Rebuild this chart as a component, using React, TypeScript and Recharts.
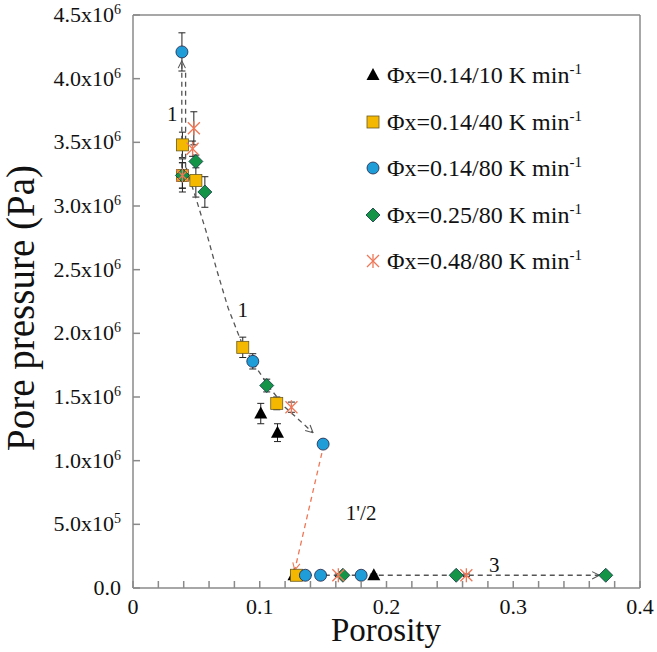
import React from "react";
import { ScatterChart, Scatter, XAxis, YAxis, ErrorBar, ReferenceLine, ReferenceDot } from "recharts";

// series: porosity, pore pressure (Pa), error (Pa)
const triX = [0.1008, 0.114, 0.127, 0.19];
const triY = [1.37e6, 1.22e6, 0.1e6, 0.1e6];
const triErr = [0.08e6, 0.07e6, 0.01e6, 0.01e6];

const sqX = [0.039, 0.039, 0.0496, 0.0866, 0.1134, 0.129];
const sqY = [3.48e6, 3.24e6, 3.2e6, 1.89e6, 1.45e6, 0.1e6];
const sqErr = [0.1e6, 0.13e6, 0.13e6, 0.08e6, 0.05e6, 0.01e6];

const cirX = [0.0386, 0.0945, 0.15, 0.136, 0.148, 0.18];
const cirY = [4.21e6, 1.78e6, 1.13e6, 0.1e6, 0.1e6, 0.1e6];
const cirErr = [0.15e6, 0.06e6, 0.02e6, 0.01e6, 0.01e6, 0.01e6];

const diaX = [0.0496, 0.039, 0.0567, 0.1055, 0.1656, 0.255, 0.373];
const diaY = [3.35e6, 3.24e6, 3.11e6, 1.59e6, 0.1e6, 0.1e6, 0.1e6];
const diaErr = [0.05e6, 0.1e6, 0.12e6, 0.05e6, 0.01e6, 0.01e6, 0.01e6];

const astX = [0.048, 0.047, 0.039, 0.125, 0.162, 0.263];
const astY = [3.61e6, 3.45e6, 3.24e6, 1.42e6, 0.1e6, 0.1e6];
const astErr = [0.13e6, 0.06e6, 0.1e6, 0.04e6, 0.01e6, 0.01e6];

const legendLabels = ["Φx=0.14/10 K min", "Φx=0.14/40 K min", "Φx=0.14/80 K min", "Φx=0.25/80 K min", "Φx=0.48/80 K min"];

// guide paths (annotation arrows)
const upX = [0.0385, 0.0385];
const upY = [3.3e6, 4.14e6];
const up2X = [0.0415, 0.0415];
const up2Y = [3.3e6, 4.05e6];
const path1X = [0.042, 0.05, 0.058, 0.066, 0.075, 0.086, 0.096, 0.108, 0.12, 0.131, 0.142];
const path1Y = [3.3e6, 3.05e6, 2.79e6, 2.5e6, 2.2e6, 1.92e6, 1.75e6, 1.57e6, 1.42e6, 1.32e6, 1.22e6];
const path2X = [0.149, 0.1276];
const path2Y = [1.06e6, 0.14e6];
const path3X = [0.13, 0.368];
const path3Y = [0.1e6, 0.1e6];

const noteText = ["1", "1", "1'/2", "3"];
const noteX = [0.031, 0.0866, 0.18, 0.285];
const noteY = [3.72e6, 2.18e6, 0.59e6, 0.18e6];

const xTicks = [0, 0.02, 0.04, 0.06, 0.08, 0.1, 0.12, 0.14, 0.16, 0.18, 0.2, 0.22, 0.24, 0.26, 0.28, 0.3, 0.32, 0.34, 0.36, 0.38, 0.4];
const yTicks = [0, 0.5e6, 1e6, 1.5e6, 2e6, 2.5e6, 3e6, 3.5e6, 4e6, 4.5e6];

const FONT = "Liberation Serif";
const AXIS = "#8a8a8a";
const YELLOW = "#f5b800";
const BLUE = "#1e9dd8";
const GREEN = "#139447";
const RED = "#ee7757";
const GUIDE = "#555";

const zip = (xs: number[], ys: number[], es?: number[]) =>
  xs.map((x, i) => ({ x, y: ys[i], err: es ? es[i] : 0 }));

const Triangle = ({ cx, cy }: any) => (
  <path d={`M${cx},${cy - 7} L${cx + 6.5},${cy + 5} L${cx - 6.5},${cy + 5} Z`} fill="#000" />
);
const Square = ({ cx, cy }: any) => (
  <rect x={cx - 6} y={cy - 6} width={12} height={12} fill={YELLOW} stroke="#6b5a1e" strokeWidth={0.8} />
);
const Circle = ({ cx, cy }: any) => <circle cx={cx} cy={cy} r={6} fill={BLUE} stroke="#224" strokeWidth={0.8} />;
const Diamond = ({ cx, cy }: any) => (
  <path d={`M${cx},${cy - 7} L${cx + 7},${cy} L${cx},${cy + 7} L${cx - 7},${cy} Z`} fill={GREEN} stroke="#134" strokeWidth={0.8} />
);
const Asterisk = ({ cx, cy }: any) => (
  <g stroke={RED} strokeWidth={1.3}>
    <line x1={cx - 6} y1={cy - 6} x2={cx + 6} y2={cy + 6} />
    <line x1={cx - 6} y1={cy + 6} x2={cx + 6} y2={cy - 6} />
    <line x1={cx} y1={cy - 7} x2={cx} y2={cy + 7} />
  </g>
);
const NoShape = () => <g />;

const markers = [Triangle, Square, Circle, Diamond, Asterisk];

const XTick = ({ x, y, payload }: any) => {
  const v = payload.value;
  const major = Math.abs(v * 10 - Math.round(v * 10)) < 1e-6;
  return (
    <g>
      <line x1={x} y1={y} x2={x} y2={y - 7} stroke={AXIS} strokeWidth={1.5} />
      {major && (
        <text x={x} y={y + 26} textAnchor="middle" fontFamily={FONT} fontSize={22} fill="#111">
          {v === 0 ? "0" : v.toFixed(1)}
        </text>
      )}
    </g>
  );
};

const YTick = ({ x, y, payload }: any) => {
  const v = payload.value;
  let body: React.ReactNode = "0.0";
  if (v !== 0) {
    const e = Math.floor(Math.log10(v) + 1e-9);
    const m = v / Math.pow(10, e);
    body = (
      <>
        {m.toFixed(1) + "x10"}
        <tspan fontSize={14} dy={-8}>{e}</tspan>
      </>
    );
  }
  return (
    <g>
      <line x1={x} y1={y} x2={x + 7} y2={y} stroke={AXIS} strokeWidth={1.5} />
      <text x={x - 12} y={y + 7} textAnchor="end" fontFamily={FONT} fontSize={22} fill="#111">
        {body}
      </text>
    </g>
  );
};

const LegendBox = () => (
  <div style={{ position: "absolute", left: 364, top: 52, fontFamily: FONT, fontSize: 24, color: "#111" }}>
    {legendLabels.map((label, i) => {
      const M = markers[i];
      return (
        <div key={label} style={{ display: "flex", alignItems: "center", height: 46.5 }}>
          <svg width={18} height={18} style={{ marginRight: 5 }}>
            <M cx={9} cy={9} />
          </svg>
          <span style={{ whiteSpace: "nowrap" }}>
            {label}
            <sup style={{ fontSize: 15 }}>-1</sup>
          </span>
        </div>
      );
    })}
  </div>
);

const Note = ({ cx, cy, text }: any) => (
  <text x={cx} y={cy} textAnchor="middle" dominantBaseline="central" fontFamily={FONT} fontSize={21} fill="#111">
    {text}
  </text>
);

const guideLine = (color: string, arrow?: string) => ({
  stroke: color,
  strokeWidth: 1.3,
  strokeDasharray: "5 4",
  markerEnd: arrow ? `url(#${arrow})` : undefined,
});

export default function App() {
  const series = [
    { name: legendLabels[0], data: zip(triX, triY, triErr), shape: Triangle },
    { name: legendLabels[1], data: zip(sqX, sqY, sqErr), shape: Square },
    { name: legendLabels[2], data: zip(cirX, cirY, cirErr), shape: Circle },
    { name: legendLabels[3], data: zip(diaX, diaY, diaErr), shape: Diamond },
    { name: legendLabels[4], data: zip(astX, astY, astErr), shape: Asterisk },
  ];
  return (
    <div style={{ position: "absolute", left: 0, top: 0, width: 657, height: 652, background: "#fff" }}>
      <svg width={0} height={0} style={{ position: "absolute" }}>
        <defs>
          <marker id="arrGray" viewBox="0 0 10 10" refX="9" refY="5" markerWidth="7" markerHeight="7" orient="auto">
            <path d="M1,1 L9,5 L1,9" fill="none" stroke={GUIDE} strokeWidth={1.2} />
          </marker>
          <marker id="arrRed" viewBox="0 0 10 10" refX="9" refY="5" markerWidth="7" markerHeight="7" orient="auto">
            <path d="M1,1 L9,5 L1,9" fill="none" stroke={RED} strokeWidth={1.2} />
          </marker>
        </defs>
      </svg>
      <ScatterChart width={657} height={652} margin={{ top: 15, right: 17, left: 0, bottom: 0 }}>
        <XAxis
          type="number"
          dataKey="x"
          domain={[0, 0.4]}
          ticks={xTicks}
          interval={0}
          tickSize={0}
          tickMargin={0}
          tickLine={false}
          tick={<XTick />}
          height={64}
          stroke={AXIS}
          strokeWidth={1.5}
          allowDataOverflow
        />
        <YAxis
          type="number"
          dataKey="y"
          domain={[0, 4.5e6]}
          ticks={yTicks}
          interval={0}
          tickSize={0}
          tickMargin={0}
          tickLine={false}
          tick={<YTick />}
          width={133}
          stroke={AXIS}
          strokeWidth={1.5}
          allowDataOverflow
        />
        <ReferenceLine y={4.5e6} stroke={AXIS} strokeWidth={1.5} />
        <ReferenceLine x={0.4} stroke={AXIS} strokeWidth={1.5} />

        <Scatter data={zip(upX, upY)} line={guideLine(GUIDE, "arrGray")} shape={NoShape} legendType="none" isAnimationActive={false} />
        <Scatter data={zip(up2X, up2Y)} line={guideLine(GUIDE)} shape={NoShape} legendType="none" isAnimationActive={false} />
        <Scatter data={zip(path1X, path1Y)} line={guideLine(GUIDE, "arrGray")} shape={NoShape} legendType="none" isAnimationActive={false} />
        <Scatter data={zip(path2X, path2Y)} line={guideLine(RED, "arrRed")} shape={NoShape} legendType="none" isAnimationActive={false} />
        <Scatter data={zip(path3X, path3Y)} line={guideLine(GUIDE, "arrGray")} shape={NoShape} legendType="none" isAnimationActive={false} />

        {series.map((s) => (
          <Scatter key={s.name} name={s.name} data={s.data} shape={s.shape} isAnimationActive={false}>
            <ErrorBar dataKey="err" direction="y" width={3.5} stroke="#222" strokeWidth={1} />
          </Scatter>
        ))}

        {noteText.map((t, i) => (
          <ReferenceDot key={i} x={noteX[i]} y={noteY[i]} r={0} shape={(p: any) => <Note cx={p.cx} cy={p.cy} text={t} />} />
        ))}
      </ScatterChart>
      <LegendBox />
      <div
        style={{
          position: "absolute",
          left: 386,
          top: 616,
          transform: "translateX(-50%)",
          fontFamily: FONT,
          fontSize: 33,
          color: "#111",
          whiteSpace: "nowrap",
          lineHeight: "28px",
        }}
      >
        Porosity
      </div>
      <div
        style={{
          position: "absolute",
          left: 21,
          top: 308,
          transform: "translate(-50%,-50%) rotate(-90deg)",
          fontFamily: FONT,
          fontSize: 39,
          color: "#111",
          whiteSpace: "nowrap",
          lineHeight: "34px",
        }}
      >
        Pore pressure (Pa)
      </div>
    </div>
  );
}
